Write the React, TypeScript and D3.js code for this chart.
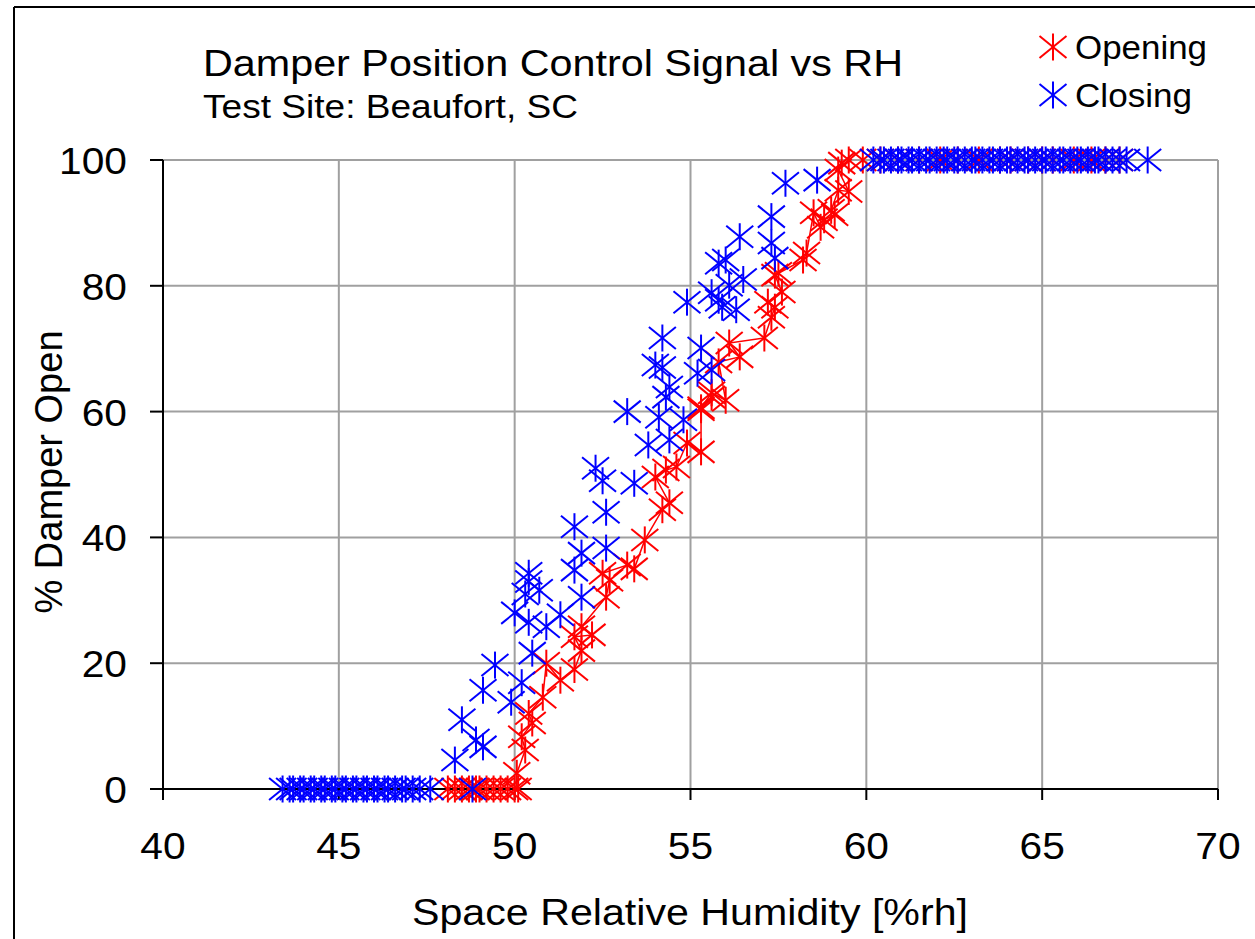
import React from "react";
import * as d3 from "d3";

// Opening (red) – humidity [%rh] and damper position [%]
const openX = [
  48.1, 48.3, 48.5, 48.7, 48.9, 49.0, 49.2, 49.4, 49.6, 49.8, 50.0, 50.1,
  50.06, 50.3, 50.2, 50.5, 50.4, 50.8, 50.9, 51.3, 51.7, 51.9, 51.7, 52.2,
  51.9, 52.6, 52.7, 52.5, 53.2, 53.4, 53.7, 54.2, 54.4, 54.0, 54.3, 54.6,
  54.9, 55.3, 55.3, 55.6, 55.3, 55.6, 56.0, 55.8, 56.4, 56.1, 57.1, 57.3,
  57.4, 57.2, 57.6, 57.4, 57.5, 58.2, 58.3, 58.5, 58.7, 58.8, 59.1, 59.0,
  59.2, 59.5, 59.2, 59.3,
  59.5, 59.9, 60.4, 60.9, 61.5, 62.1, 62.6, 63.2, 63.8, 64.1, 64.6, 65.0,
  65.3, 65.9, 66.4, 66.8, 67.2
];
const openY = [
  0, 0, 0, 0, 0, 0, 0, 0, 0, 0, 0, 0,
  2.5, 6.2, 8.3, 10.5, 12, 14.6, 20, 17.3, 19, 22, 24.2, 24.5,
  25.8, 30.5, 33.2, 34.3, 35.6, 35, 39.6, 44.4, 45.5, 49.6, 50.7, 51.2,
  55, 53.6, 60.3, 62.3, 60.6, 63, 61.8, 67.9, 68.7, 70.9, 71.7, 75,
  76.6, 77.4, 79, 81.7, 82, 84.1, 85.2, 91.6, 89.3, 90.5, 91.3, 92,
  95.2, 95, 98.4, 99.5,
  100, 100, 100, 100, 100, 100, 100, 100, 100, 100, 100, 100,
  100, 100, 100, 100, 100
];

// Closing (blue)
const closeX = [
  43.4, 43.6, 43.7, 43.9, 44.0, 44.2, 44.3, 44.5, 44.6, 44.8, 44.9, 45.1,
  45.2, 45.4, 45.5, 45.7, 45.8, 46.0, 46.1, 46.3, 46.4, 46.6, 46.8, 46.9,
  47.1, 47.3, 47.6, 48.8,
  48.3, 48.9, 49.1, 48.5, 49.1, 49.9, 49.44, 50.2, 50.5, 50.9, 50.3, 50.0,
  50.4, 51.3, 50.7, 50.4, 51.9, 51.7, 50.4, 51.9, 52.6, 52.6, 53.4, 51.7,
  52.5, 52.3, 53.8, 54.4, 54.8, 54.1, 53.2, 54.3, 54.4, 55.2, 55.6, 54.0,
  54.2, 54.2, 55.3, 54.9, 55.8, 55.6, 55.9, 56.3, 56.4, 55.8, 56.0, 56.1,
  57.4, 57.3, 56.5, 57.3, 57.7, 58.6,
  60.2, 60.4, 60.5, 60.7, 60.9, 61.0, 61.2, 61.3, 61.5, 61.7, 61.8, 62.0,
  62.2, 62.3, 62.5, 62.6, 62.8, 63.0, 63.1, 63.3, 63.5, 63.6, 63.8, 64.0,
  64.1, 64.3, 64.5, 64.6, 64.8, 65.0, 65.1, 65.3, 65.5, 65.6, 65.8, 66.0,
  66.1, 66.3, 66.5, 66.6, 66.8, 67.0, 67.2, 67.4, 68.0
];
const closeY = [
  0, 0, 0, 0, 0, 0, 0, 0, 0, 0, 0, 0,
  0, 0, 0, 0, 0, 0, 0, 0, 0, 0, 0, 0,
  0, 0, 0, 0,
  4.6, 7.8, 6.7, 11, 15.7, 13.8, 19.7, 16.9, 21.6, 25.8, 31, 28,
  26.5, 27.7, 31.6, 33, 30.5, 34.8, 34.3, 37.5, 38.3, 44, 48.6, 41.7,
  49, 51, 54.7, 55.5, 58.7, 59.1, 60, 62.3, 63.9, 66.1, 66.6, 67.4,
  67, 71.7, 70.1, 77.4, 77.7, 78.9, 76.6, 76.2, 87.8, 83.6, 84.1, 80.1,
  84.4, 86.8, 81, 91, 96.3, 96.8,
  100, 100, 100, 100, 100, 100, 100, 100, 100, 100, 100, 100,
  100, 100, 100, 100, 100, 100, 100, 100, 100, 100, 100, 100,
  100, 100, 100, 100, 100, 100, 100, 100, 100, 100, 100, 100,
  100, 100, 100, 100, 100, 100, 100, 100, 100
];

const xTicks = [40, 45, 50, 55, 60, 65, 70];
const yTicks = [0, 20, 40, 60, 80, 100];

const FONT = "'Liberation Sans', Arial, sans-serif";
const SX = 1.1; // the picture is a little wider than tall

function Star({ x, y, color }: { x: number; y: number; color: string }) {
  const r = 13.5;
  const d = 11;
  return (
    <g stroke={color} strokeWidth={2}>
      <line x1={x} y1={y - r} x2={x} y2={y + r} />
      <line x1={x - r} y1={y - d} x2={x + r} y2={y + d} />
      <line x1={x - r} y1={y + d} x2={x + r} y2={y - d} />
    </g>
  );
}

function Label({ x, y, size, anchor = "start", children }: any) {
  return (
    <text
      transform={`translate(${x},${y}) scale(${SX},1)`}
      fontSize={size}
      textAnchor={anchor}
      fontFamily={FONT}
      fill="#000"
    >
      {children}
    </text>
  );
}

export default function App() {
  const width = 1255;
  const height = 939;
  const x = d3.scaleLinear().domain([40, 70]).range([163, 1218]);
  const y = d3.scaleLinear().domain([0, 100]).range([789, 160]);

  const open = openX.map((v, i) => ({ x: v, y: openY[i] }));
  const close = closeX.map((v, i) => ({ x: v, y: closeY[i] }));
  const openRise = open.filter(d => d.y > 0 && d.y < 100);

  const line = d3
    .line<{ x: number; y: number }>()
    .x(d => x(d.x))
    .y(d => y(d.y));

  return (
    <svg
      width={width}
      height={height}
      style={{ position: "absolute", left: 0, top: 0, background: "#fff" }}
    >
      {/* outer frame */}
      <line x1={14} y1={7} x2={1260} y2={7} stroke="#000" strokeWidth={2} />
      <line x1={14} y1={7} x2={14} y2={945} stroke="#000" strokeWidth={2} />

      {/* grid */}
      {xTicks.slice(1).map(t => (
        <line key={"gx" + t} x1={x(t)} x2={x(t)} y1={y(0)} y2={y(100)} stroke="#a0a0a0" strokeWidth={2} />
      ))}
      {yTicks.slice(1).map(t => (
        <line key={"gy" + t} x1={x(40)} x2={x(70)} y1={y(t)} y2={y(t)} stroke="#a0a0a0" strokeWidth={2} />
      ))}

      {/* axes */}
      <line x1={x(40)} x2={x(40)} y1={y(100)} y2={y(0) + 11} stroke="#000" strokeWidth={2} />
      <line x1={x(40) - 13} x2={x(70)} y1={y(0)} y2={y(0)} stroke="#000" strokeWidth={2} />
      {yTicks.map(t => (
        <line key={"ty" + t} x1={x(40) - 13} x2={x(40)} y1={y(t)} y2={y(t)} stroke="#000" strokeWidth={2} />
      ))}
      {xTicks.map(t => (
        <line key={"tx" + t} x1={x(t)} x2={x(t)} y1={y(0)} y2={y(0) + 11} stroke="#000" strokeWidth={2} />
      ))}

      {/* tick labels */}
      {yTicks.map(t => (
        <Label key={"ly" + t} x={127} y={y(t) + 14} size={37} anchor="end">
          {t}
        </Label>
      ))}
      {xTicks.map(t => (
        <Label key={"lx" + t} x={x(t)} y={859} size={37} anchor="middle">
          {t}
        </Label>
      ))}

      {/* series */}
      <path d={line(openRise) || ""} fill="none" stroke="#ff0000" strokeWidth={1.5} />
      {open.map((d, i) => (
        <Star key={"o" + i} x={x(d.x)} y={y(d.y)} color="#ff0000" />
      ))}
      {close.map((d, i) => (
        <Star key={"c" + i} x={x(d.x)} y={y(d.y)} color="#0000ff" />
      ))}

      {/* titles */}
      <text x={203} y={76} fontSize={37} fontFamily={FONT} textLength={700} lengthAdjust="spacingAndGlyphs">
        Damper Position Control Signal vs RH
      </text>
      <text x={203} y={118} fontSize={33} fontFamily={FONT} textLength={375} lengthAdjust="spacingAndGlyphs">
        Test Site: Beaufort, SC
      </text>
      <text x={412} y={925} fontSize={37} fontFamily={FONT} textLength={556} lengthAdjust="spacingAndGlyphs">
        Space Relative Humidity [%rh]
      </text>
      <text
        transform="translate(62,472) rotate(-90)"
        fontSize={38}
        fontFamily={FONT}
        textAnchor="middle"
      >
        % Damper Open
      </text>

      {/* legend */}
      <Star x={1053} y={47} color="#ff0000" />
      <text x={1075} y={59} fontSize={34} fontFamily={FONT} textLength={132} lengthAdjust="spacingAndGlyphs">
        Opening
      </text>
      <Star x={1053} y={95} color="#0000ff" />
      <text x={1075} y={107} fontSize={34} fontFamily={FONT} textLength={117} lengthAdjust="spacingAndGlyphs">
        Closing
      </text>
    </svg>
  );
}
